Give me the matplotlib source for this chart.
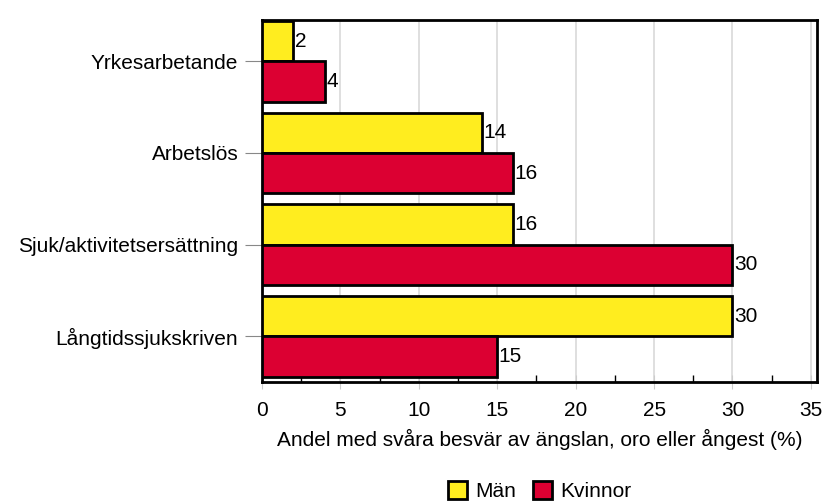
import numpy as np
import matplotlib.pyplot as plt

plt.rcParams['font.family'] = ['Liberation Sans', 'DejaVu Sans']

kategorier = ['Yrkesarbetande', 'Arbetslös', 'Sjuk/aktivitetsersättning', 'Långtidssjukskriven']
man = [2, 14, 16, 30]
kvinnor = [4, 16, 30, 15]

gul = '#FFED1F'
rod = '#DC0032'
fs = 15

fig = plt.figure(figsize=(8.33, 5.01), dpi=100)
ax = fig.add_axes([0.3145, 0.2375, 0.6665, 0.7225])

y = np.arange(len(kategorier))
h = 0.44
b1 = ax.barh(y - h/2, man, height=h, color=gul, edgecolor='black', linewidth=2, label='Män', zorder=3)
b2 = ax.barh(y + h/2, kvinnor, height=h, color=rod, edgecolor='black', linewidth=2, label='Kvinnor', zorder=3)

for bars, vals in [(b1, man), (b2, kvinnor)]:
    for b, v in zip(bars, vals):
        ax.text(v + 0.1, b.get_y() + b.get_height()/2, str(v), va='center', ha='left', fontsize=fs)

ax.set_ylim(3.5, -0.45)
ax.set_yticks(y)
ax.set_yticklabels(kategorier, fontsize=fs)
ax.set_xlim(0, 35.4)
ax.set_xticks(range(0, 36, 5))
ax.set_xticklabels([str(v) for v in range(0, 36, 5)], fontsize=fs)
ax.set_xticks(np.arange(2.5, 35, 5), minor=True)
ax.tick_params(axis='x', which='major', direction='inout', length=10, color='#cccccc', pad=9)
ax.tick_params(axis='x', which='minor', direction='in', length=5, width=1)
ax.tick_params(axis='y', direction='out', length=12, color='#888888', pad=5)
ax.grid(axis='x', color='#d9d9d9', linewidth=1.2, zorder=0)
for s in ax.spines.values():
    s.set_linewidth(2)
ax.set_xlabel('Andel med svåra besvär av ängslan, oro eller ångest (%)', fontsize=fs, labelpad=6)

fig.legend(handles=[b1, b2], loc='lower center', bbox_to_anchor=(0.648, -0.038), ncol=2, frameon=False,
           fontsize=fs, handlelength=0.9, handleheight=0.9, handletextpad=0.4, columnspacing=0.8)

fig.savefig('out.png', dpi=100)
